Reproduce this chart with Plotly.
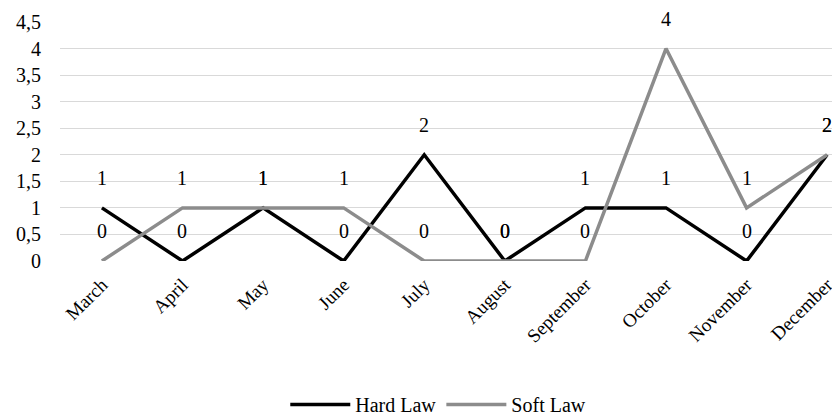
import plotly.graph_objects as go

months = ["March", "April", "May", "June", "July", "August",
          "September", "October", "November", "December"]
hard_law = [1, 0, 1, 0, 2, 0, 1, 1, 0, 2]
soft_law = [0, 1, 1, 1, 0, 0, 0, 4, 1, 2]
y_ticks = [0, 0.5, 1, 1.5, 2, 2.5, 3, 3.5, 4, 4.5]
y_tick_text = ["0", "0,5", "1", "1,5", "2", "2,5", "3", "3,5", "4", "4,5"]

FONT = "Liberation Serif"
FS = 20

fig = go.Figure()
fig.add_trace(go.Scatter(x=months, y=hard_law, mode="lines", name="Hard Law",
                         line=dict(color="#000000", width=3.5), cliponaxis=False))
fig.add_trace(go.Scatter(x=months, y=soft_law, mode="lines", name="Soft Law",
                         line=dict(color="#8c8c8c", width=3.5), cliponaxis=False))

annotations = []
for series in (hard_law, soft_law):
    for m, v in zip(months, series):
        annotations.append(dict(x=m, y=v, text=str(v), showarrow=False,
                                yshift=30, font=dict(family=FONT, size=FS, color="#000")))

fig.update_layout(
    width=832, height=416,
    margin=dict(l=60, r=0, t=22, b=155, autoexpand=False),
    paper_bgcolor="white", plot_bgcolor="white",
    font=dict(family=FONT, size=FS, color="#000"),
    showlegend=True,
    legend=dict(orientation="h", x=0.49, xanchor="center", y=-0.6, yanchor="middle",
                font=dict(family=FONT, size=FS, color="#000"),
                traceorder="normal", itemwidth=60, tracegroupgap=0),
    annotations=annotations,
    xaxis=dict(type="category", range=[-0.52, 9.06], showgrid=False, zeroline=False,
               showline=False, ticks="", tickangle=-45, automargin=False,
               ticklabelstandoff=8,
               tickfont=dict(family=FONT, size=19, color="#000")),
    yaxis=dict(range=[0, 4.5], tickvals=y_ticks, ticktext=y_tick_text,
               showgrid=True, gridcolor="#d9d9d9", gridwidth=1, zeroline=False,
               showline=False, ticks="", ticklabelstandoff=18, automargin=False,
               tickfont=dict(family=FONT, size=FS, color="#000")),
)

fig.write_html("out.html", config={"displayModeBar": False},
               post_script="document.body.style.margin='0';document.body.style.overflow='hidden';")
